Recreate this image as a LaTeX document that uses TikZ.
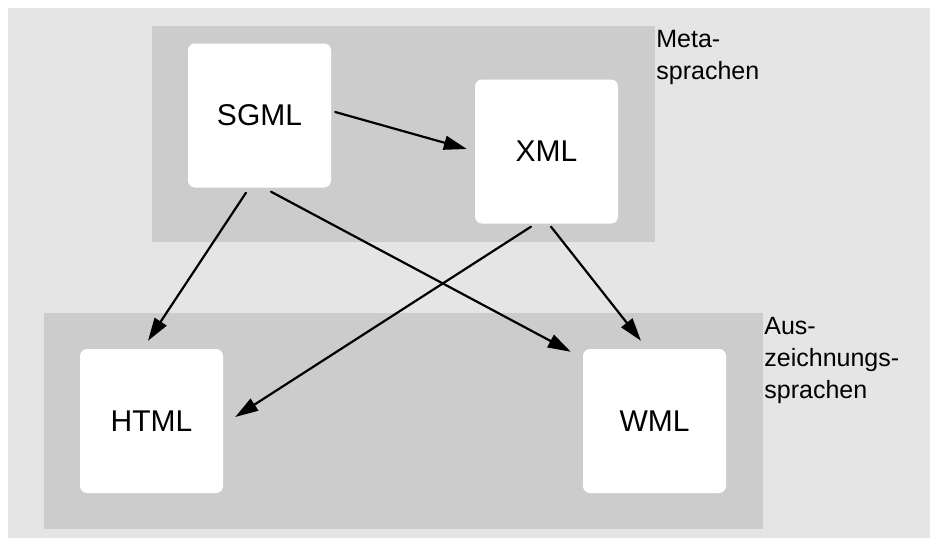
\documentclass[tikz,border=0pt]{standalone}
\usepackage{fontspec}
\setmainfont{Liberation Sans}
\usetikzlibrary{arrows.meta}
\definecolor{bggray}{gray}{0.9}
\definecolor{areagray}{gray}{0.8}

\begin{document}
\begin{tikzpicture}[x=1pt,y=-1pt,line cap=round,line join=round,>={Triangle[length=23pt,width=14pt]},
    lang/.style={fill=white,rounded corners=7pt,minimum width=143pt,minimum height=144pt,inner sep=0pt,font=\fontsize{30}{36}\selectfont},
    area/.style={fill=areagray,inner sep=0pt,minimum height=216pt},
    arealabel/.style={anchor=north west,inner sep=0pt,align=left,font=\fontsize{25}{32}\selectfont},
    link/.style={->,line width=2.2pt}]
      \useasboundingbox (0,0) rectangle (930,539);
      \fill[bggray] (8,8) rectangle (930,538);
      % the two language groups
      \node[area,minimum width=503pt] (meta) at (403.5,134) {};
      \node[area,minimum width=719pt] (markup) at (403.5,421) {};
      \node[arealabel] (metalabel) at ([xshift=1pt,yshift=-4pt]meta.north east) {Meta-\\sprachen};
      \node[arealabel] (markuplabel) at ([xshift=1pt,yshift=-4pt]markup.north east) {Aus-\\zeichnungs-\\sprachen};
      % the languages
      \node[lang] (sgml) at (259.5,115.5) {SGML};
      \node[lang] (xml) at (546.5,151.5) {XML};
      \node[lang] (html) at (151.5,421) {HTML};
      \node[lang] (wml) at (654.5,421) {WML};
      % derivations
      \draw[link] ([xshift=4pt,yshift=3.5pt]sgml.east) -- ([xshift=-8pt,yshift=2.5pt]xml.west);
      \draw[link] ([xshift=-13.5pt,yshift=-5pt]sgml.south) -- ([xshift=-3.5pt,yshift=8pt]html.north);
      \draw[link] ([xshift=11.5pt,yshift=-4pt]sgml.south) -- ([xshift=-12pt,yshift=-3pt]wml.north west);
      \draw[link] ([xshift=-15.5pt,yshift=-3pt]xml.south) -- ([xshift=12pt,yshift=4pt]html.east);
      \draw[link] ([xshift=4.5pt,yshift=-3pt]xml.south) -- ([xshift=-13.5pt,yshift=8pt]wml.north);
\end{tikzpicture}
\end{document}
